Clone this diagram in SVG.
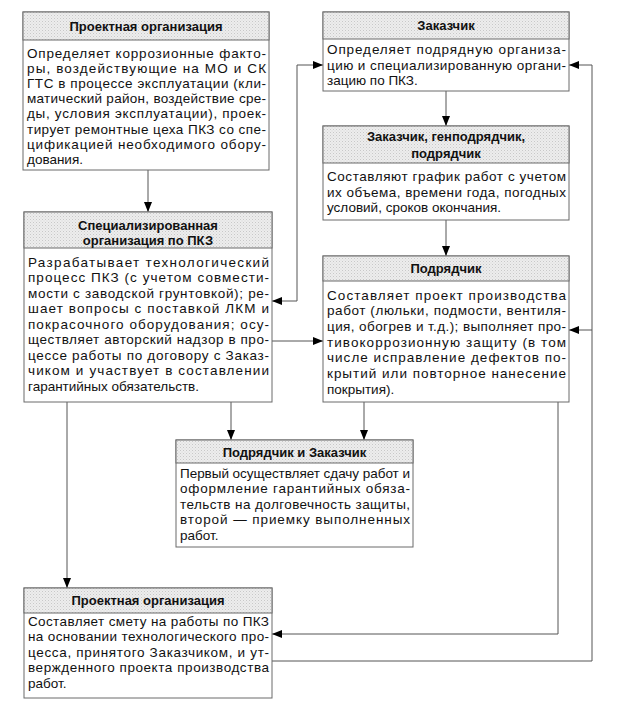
<svg xmlns="http://www.w3.org/2000/svg" width="622" height="713" viewBox="0 0 622 713">
<defs>
<pattern id="dots" width="3" height="3" patternUnits="userSpaceOnUse">
<rect width="3" height="3" fill="#ededed"/>
<rect x="0" y="0" width="1" height="1" fill="#c8c8c8"/>
<rect x="1.5" y="1.5" width="1" height="1" fill="#d6d6d6"/>
</pattern>
<marker id="ah" viewBox="0 0 10 8" refX="10" refY="4" markerWidth="10" markerHeight="8" markerUnits="userSpaceOnUse" orient="auto-start-reverse">
<path d="M0,0 L10,4 L0,8 Z" fill="#000"/>
</marker>
<style>
.box{fill:#fff;stroke:#6a6a6a;stroke-width:1}
.hd{fill:url(#dots);stroke:#6a6a6a;stroke-width:1}
.ht{font-family:"Liberation Sans",Arial,sans-serif;font-size:13px;font-weight:bold;fill:#111;text-anchor:middle}
.bt{font-family:"Liberation Sans",Arial,sans-serif;font-size:13.5px;fill:#111}
.cn{fill:none;stroke:#555;stroke-width:1}
</style>
</defs>

<g id="connectors">
<path class="cn" d="M148,170 V212" marker-end="url(#ah)"/>
<path class="cn" d="M446,91 V126" marker-end="url(#ah)"/>
<path class="cn" d="M446,220 V256" marker-end="url(#ah)"/>
<path class="cn" d="M323,65 H297 V301 H272" marker-start="url(#ah)" marker-end="url(#ah)"/>
<path class="cn" d="M272,341 H323" marker-end="url(#ah)"/>
<path class="cn" d="M272,661 H592 V65 H569" marker-end="url(#ah)"/>
<path class="cn" d="M592,330 H569" marker-end="url(#ah)"/>
<path class="cn" d="M558,402 V634 H272" marker-end="url(#ah)"/>
<path class="cn" d="M67,402 V588" marker-end="url(#ah)"/>
<path class="cn" d="M231,402 V440" marker-end="url(#ah)"/>
<path class="cn" d="M364,402 V440" marker-end="url(#ah)"/>
</g>

<g id="node-proekt1">
<rect class="box" x="23" y="12" width="246" height="158"/>
<rect class="hd" x="23" y="12" width="246" height="28"/>
<text class="ht" x="146" y="30.5">Проектная организация</text>
<text class="bt" x="27" y="58" textLength="239" lengthAdjust="spacing">Определяет коррозионные факто-</text>
<text class="bt" x="27" y="73" textLength="239" lengthAdjust="spacing">ры, воздействующие на МО и СК</text>
<text class="bt" x="27" y="88" textLength="239" lengthAdjust="spacing">ГТС в процессе эксплуатации (кли-</text>
<text class="bt" x="27" y="103" textLength="239" lengthAdjust="spacing">матический район, воздействие сре-</text>
<text class="bt" x="27" y="118" textLength="239" lengthAdjust="spacing">ды, условия эксплуатации), проек-</text>
<text class="bt" x="27" y="133.5" textLength="239" lengthAdjust="spacing">тирует ремонтные цеха ПКЗ со спе-</text>
<text class="bt" x="27" y="149" textLength="239" lengthAdjust="spacing">цификацией необходимого обору-</text>
<text class="bt" x="27" y="164">дования.</text>
</g>

<g id="node-zakazchik">
<rect class="box" x="323" y="12" width="246" height="79"/>
<rect class="hd" x="323" y="12" width="246" height="27"/>
<text class="ht" x="446" y="30">Заказчик</text>
<text class="bt" x="327" y="54" textLength="239" lengthAdjust="spacing">Определяет подрядную организа-</text>
<text class="bt" x="327" y="69.5" textLength="239" lengthAdjust="spacing">цию и специализированную органи-</text>
<text class="bt" x="327" y="85">зацию по ПКЗ.</text>
</g>

<g id="node-genpodr">
<rect class="box" x="323" y="126" width="246" height="94"/>
<rect class="hd" x="323" y="126" width="246" height="37"/>
<text class="ht" x="446" y="141">Заказчик, генподрядчик,</text>
<text class="ht" x="446" y="157.5">подрядчик</text>
<text class="bt" x="327" y="181" textLength="239" lengthAdjust="spacing">Составляют график работ с учетом</text>
<text class="bt" x="327" y="196.5" textLength="239" lengthAdjust="spacing">их объема, времени года, погодных</text>
<text class="bt" x="327" y="212">условий, сроков окончания.</text>
</g>

<g id="node-spec">
<rect class="box" x="24" y="212" width="248" height="190"/>
<rect class="hd" x="24" y="212" width="248" height="36"/>
<text class="ht" x="148" y="229.5">Специализированная</text>
<text class="ht" x="148" y="245">организация по ПКЗ</text>
<text class="bt" x="28" y="266.5" textLength="241" lengthAdjust="spacing">Разрабатывает технологический</text>
<text class="bt" x="28" y="282" textLength="241" lengthAdjust="spacing">процесс ПКЗ (с учетом совмести-</text>
<text class="bt" x="28" y="297.5" textLength="241" lengthAdjust="spacing">мости с заводской грунтовкой); ре-</text>
<text class="bt" x="28" y="313" textLength="241" lengthAdjust="spacing">шает вопросы с поставкой ЛКМ и</text>
<text class="bt" x="28" y="328.5" textLength="241" lengthAdjust="spacing">покрасочного оборудования; осу-</text>
<text class="bt" x="28" y="344" textLength="241" lengthAdjust="spacing">ществляет авторский надзор в про-</text>
<text class="bt" x="28" y="359.5" textLength="241" lengthAdjust="spacing">цессе работы по договору с Заказ-</text>
<text class="bt" x="28" y="375" textLength="241" lengthAdjust="spacing">чиком и участвует в составлении</text>
<text class="bt" x="28" y="390.5">гарантийных обязательств.</text>
</g>

<g id="node-podryadchik">
<rect class="box" x="323" y="256" width="246" height="146"/>
<rect class="hd" x="323" y="256" width="246" height="25"/>
<text class="ht" x="446" y="272.5">Подрядчик</text>
<text class="bt" x="327" y="299.5" textLength="239" lengthAdjust="spacing">Составляет проект производства</text>
<text class="bt" x="327" y="315" textLength="239" lengthAdjust="spacing">работ (люльки, подмости, вентиля-</text>
<text class="bt" x="327" y="331" textLength="239" lengthAdjust="spacing">ция, обогрев и т.д.); выполняет про-</text>
<text class="bt" x="327" y="346.5" textLength="239" lengthAdjust="spacing">тивокоррозионную защиту (в том</text>
<text class="bt" x="327" y="362" textLength="239" lengthAdjust="spacing">числе исправление дефектов по-</text>
<text class="bt" x="327" y="377.5" textLength="239" lengthAdjust="spacing">крытий или повторное нанесение</text>
<text class="bt" x="327" y="393.5">покрытия).</text>
</g>

<g id="node-podr-zak">
<rect class="box" x="176" y="440" width="237" height="107"/>
<rect class="hd" x="176" y="440" width="237" height="23"/>
<text class="ht" x="294.5" y="456.5">Подрядчик и Заказчик</text>
<text class="bt" x="180" y="477.5" textLength="230" lengthAdjust="spacing">Первый осуществляет сдачу работ и</text>
<text class="bt" x="180" y="493" textLength="230" lengthAdjust="spacing">оформление гарантийных обяза-</text>
<text class="bt" x="180" y="508.5" textLength="230" lengthAdjust="spacing">тельств на долговечность защиты,</text>
<text class="bt" x="180" y="524" textLength="230" lengthAdjust="spacing">второй — приемку выполненных</text>
<text class="bt" x="180" y="539.5">работ.</text>
</g>

<g id="node-proekt2">
<rect class="box" x="24" y="588" width="248" height="110"/>
<rect class="hd" x="24" y="588" width="248" height="25"/>
<text class="ht" x="148" y="605">Проектная организация</text>
<text class="bt" x="28" y="625.5" textLength="241" lengthAdjust="spacing">Составляет смету на работы по ПКЗ</text>
<text class="bt" x="28" y="641" textLength="241" lengthAdjust="spacing">на основании технологического про-</text>
<text class="bt" x="28" y="656.5" textLength="241" lengthAdjust="spacing">цесса, принятого Заказчиком, и ут-</text>
<text class="bt" x="28" y="672" textLength="241" lengthAdjust="spacing">вержденного проекта производства</text>
<text class="bt" x="28" y="687.5">работ.</text>
</g>
</svg>
